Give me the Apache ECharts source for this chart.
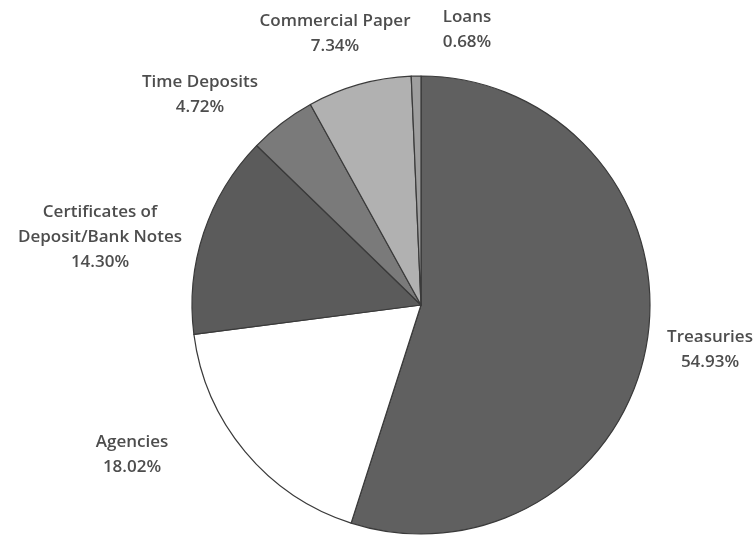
<!DOCTYPE html>
<html>
<head>
<meta charset="utf-8">
<script src="https://cdn.jsdelivr.net/npm/echarts@6/dist/echarts.min.js"></script>
<style>
  html, body { margin: 0; padding: 0; background: #ffffff; }
  #chart { width: 754px; height: 535px; }
</style>
</head>
<body>
<div id="chart"></div>
<script>
// Portfolio composition by asset type (percent of total)
var categories = ['Treasuries', 'Agencies', 'Certificates of\nDeposit/Bank Notes', 'Time Deposits', 'Commercial Paper', 'Loans'];
var shares = [54.93, 18.02, 14.30, 4.72, 7.34, 0.68];

// Slice fills, in the same order as the categories
var sliceColors = ['#606060', '#ffffff', '#5b5b5b', '#7a7a7a', '#b1b1b1', '#9e9e9e'];

// Label block centres in pixels, in the same order as the categories
var labelPos = [[710, 350], [132, 455], [100, 237], [200, 95], [335, 34], [467, 30]];

var chart = echarts.init(document.getElementById('chart'), null, { renderer: 'canvas' });

chart.setOption({
  animation: false,
  backgroundColor: '#ffffff',
  series: [{
    type: 'pie',
    center: [421, 305],
    radius: 229,
    startAngle: 90,
    clockwise: true,
    avoidLabelOverlap: false,
    itemStyle: { borderColor: '#3a3a3a', borderWidth: 1.2 },
    label: {
      show: true,
      position: 'outside',
      formatter: function (p) { return p.name + '\n' + p.value.toFixed(2) + '%'; },
      fontFamily: '"Open Sans", Lato, sans-serif',
      fontWeight: 600,
      fontSize: 17,
      lineHeight: 25,
      color: '#4d4d4d',
      align: 'center'
    },
    labelLine: { show: false },
    labelLayout: function (params) {
      var pos = labelPos[params.dataIndex];
      return { x: pos[0], y: pos[1], align: 'center', verticalAlign: 'middle' };
    },
    data: categories.map(function (name, i) {
      return { name: name, value: shares[i], itemStyle: { color: sliceColors[i] } };
    })
  }]
});
</script>
</body>
</html>
